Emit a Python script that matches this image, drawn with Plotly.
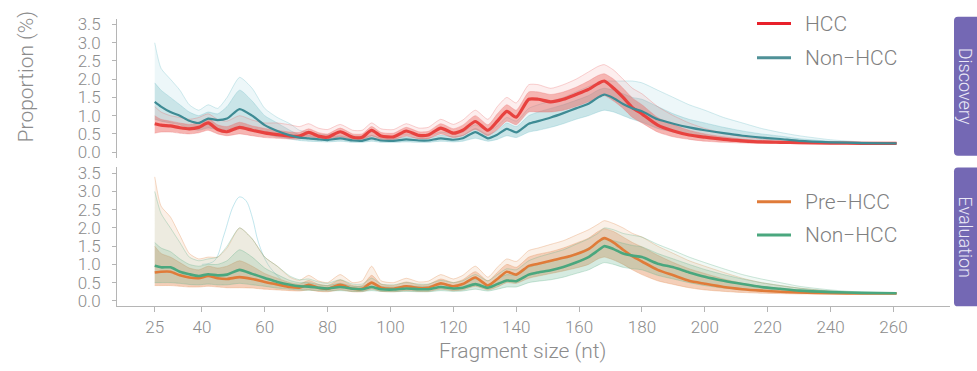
import plotly.graph_objects as go

# ---------------- data ----------------
fragment_size = [25, 27, 30, 33, 36, 39, 42, 45, 48, 52, 56, 60, 64, 68, 71, 74, 77, 80, 84, 88,
                 91, 94, 97, 101, 105, 109, 112, 116, 120, 123, 127, 131, 134, 137, 140, 144, 147, 151, 155, 159,
                 163, 166, 168, 171, 174, 177, 180, 185, 190, 195, 200, 206, 212, 218, 224, 230, 240, 250, 261]

# Discovery - HCC
hcc_mean = [0.78, 0.74, 0.72, 0.67, 0.64, 0.68, 0.80, 0.62, 0.56, 0.68, 0.60, 0.53, 0.48, 0.44, 0.44, 0.54, 0.44, 0.41, 0.56, 0.41,
            0.41, 0.60, 0.44, 0.42, 0.58, 0.46, 0.47, 0.66, 0.52, 0.60, 0.84, 0.60, 0.85, 1.12, 0.96, 1.45, 1.45, 1.38, 1.45, 1.58,
            1.72, 1.88, 1.95, 1.75, 1.50, 1.22, 1.05, 0.74, 0.58, 0.47, 0.41, 0.35, 0.31, 0.28, 0.27, 0.26, 0.25, 0.24, 0.24]
hcc_lo = [0.52, 0.55, 0.55, 0.52, 0.50, 0.53, 0.60, 0.50, 0.45, 0.50, 0.45, 0.40, 0.38, 0.36, 0.36, 0.42, 0.36, 0.34, 0.42, 0.33,
          0.33, 0.44, 0.35, 0.34, 0.44, 0.36, 0.37, 0.50, 0.40, 0.45, 0.62, 0.45, 0.62, 0.85, 0.75, 1.10, 1.10, 1.10, 1.15, 1.25,
          1.38, 1.50, 1.55, 1.40, 1.20, 0.95, 0.80, 0.55, 0.42, 0.35, 0.30, 0.27, 0.25, 0.24, 0.24, 0.23, 0.23, 0.23, 0.23]
hcc_hi = [1.00, 0.90, 0.85, 0.80, 0.76, 0.80, 0.92, 0.75, 0.70, 0.82, 0.72, 0.65, 0.60, 0.55, 0.54, 0.64, 0.54, 0.50, 0.66, 0.50,
          0.50, 0.70, 0.54, 0.52, 0.68, 0.56, 0.57, 0.78, 0.64, 0.74, 1.00, 0.75, 1.05, 1.30, 1.15, 1.65, 1.65, 1.58, 1.65, 1.78,
          1.95, 2.10, 2.15, 2.00, 1.75, 1.48, 1.30, 0.95, 0.75, 0.60, 0.50, 0.42, 0.36, 0.32, 0.30, 0.28, 0.26, 0.25, 0.24]
hcc_top = [1.25, 1.10, 1.00, 0.95, 0.90, 0.95, 1.05, 0.90, 0.85, 1.00, 0.88, 0.80, 0.80, 0.75, 0.70, 0.78, 0.66, 0.62, 0.76, 0.60,
           0.60, 0.80, 0.64, 0.62, 0.78, 0.66, 0.68, 0.90, 0.76, 0.88, 1.15, 0.90, 1.25, 1.50, 1.35, 1.85, 1.85, 1.75, 1.85, 2.00,
           2.20, 2.35, 2.40, 2.25, 2.00, 1.75, 1.60, 1.25, 1.00, 0.80, 0.65, 0.52, 0.42, 0.36, 0.32, 0.30, 0.27, 0.26, 0.25]

# Discovery - Non-HCC
dnon_mean = [1.38, 1.25, 1.10, 1.00, 0.86, 0.80, 0.92, 0.88, 0.92, 1.18, 1.00, 0.74, 0.58, 0.46, 0.40, 0.38, 0.35, 0.33, 0.38, 0.32,
             0.31, 0.38, 0.32, 0.31, 0.35, 0.32, 0.32, 0.38, 0.34, 0.38, 0.55, 0.38, 0.48, 0.64, 0.54, 0.78, 0.85, 0.95, 1.07, 1.20,
             1.33, 1.50, 1.58, 1.48, 1.32, 1.20, 1.12, 0.90, 0.78, 0.68, 0.60, 0.52, 0.45, 0.40, 0.36, 0.31, 0.27, 0.25, 0.24]
dnon_lo = [0.90, 0.85, 0.80, 0.75, 0.65, 0.60, 0.66, 0.62, 0.62, 0.70, 0.60, 0.50, 0.42, 0.36, 0.32, 0.30, 0.29, 0.28, 0.30, 0.27,
           0.27, 0.30, 0.27, 0.27, 0.28, 0.27, 0.27, 0.30, 0.28, 0.30, 0.38, 0.30, 0.35, 0.45, 0.40, 0.55, 0.60, 0.68, 0.78, 0.90,
           1.00, 1.10, 1.15, 1.10, 1.00, 0.90, 0.82, 0.65, 0.55, 0.47, 0.42, 0.37, 0.33, 0.30, 0.28, 0.26, 0.25, 0.24, 0.23]
dnon_hi = [1.90, 1.70, 1.50, 1.30, 1.10, 1.00, 1.10, 1.05, 1.25, 1.70, 1.40, 1.00, 0.80, 0.60, 0.48, 0.46, 0.42, 0.40, 0.45, 0.38,
           0.37, 0.46, 0.38, 0.37, 0.42, 0.38, 0.38, 0.46, 0.42, 0.46, 0.65, 0.48, 0.60, 0.80, 0.70, 1.00, 1.10, 1.20, 1.30, 1.42,
           1.55, 1.70, 1.75, 1.70, 1.60, 1.50, 1.45, 1.25, 1.05, 0.90, 0.80, 0.68, 0.58, 0.50, 0.44, 0.37, 0.30, 0.27, 0.25]
dnon_top = [3.00, 2.30, 2.00, 1.70, 1.30, 1.15, 1.30, 1.20, 1.50, 2.05, 1.75, 1.20, 0.95, 0.78, 0.60, 0.55, 0.50, 0.48, 0.55, 0.45,
            0.44, 0.55, 0.45, 0.43, 0.50, 0.45, 0.45, 0.55, 0.50, 0.55, 0.75, 0.58, 0.72, 0.95, 0.85, 1.20, 1.30, 1.40, 1.50, 1.65,
            1.80, 1.90, 1.95, 1.95, 1.95, 1.95, 1.90, 1.70, 1.50, 1.30, 1.15, 0.95, 0.80, 0.65, 0.54, 0.45, 0.34, 0.28, 0.26]

# Evaluation - Pre-HCC
pre_mean = [0.78, 0.80, 0.80, 0.70, 0.64, 0.62, 0.68, 0.62, 0.60, 0.65, 0.60, 0.52, 0.45, 0.38, 0.36, 0.44, 0.36, 0.33, 0.44, 0.33,
            0.33, 0.50, 0.36, 0.33, 0.40, 0.35, 0.36, 0.48, 0.40, 0.46, 0.64, 0.42, 0.60, 0.80, 0.72, 0.96, 1.02, 1.10, 1.18, 1.28,
            1.42, 1.62, 1.72, 1.60, 1.40, 1.22, 1.08, 0.85, 0.70, 0.55, 0.47, 0.38, 0.32, 0.28, 0.25, 0.23, 0.21, 0.20, 0.20]
pre_lo = [0.42, 0.42, 0.42, 0.40, 0.38, 0.38, 0.40, 0.38, 0.36, 0.36, 0.35, 0.32, 0.30, 0.28, 0.27, 0.30, 0.26, 0.25, 0.30, 0.25,
          0.25, 0.32, 0.26, 0.25, 0.28, 0.26, 0.26, 0.32, 0.28, 0.30, 0.40, 0.30, 0.38, 0.50, 0.48, 0.62, 0.68, 0.75, 0.82, 0.90,
          1.00, 1.15, 1.20, 1.12, 1.00, 0.85, 0.72, 0.55, 0.45, 0.36, 0.30, 0.26, 0.23, 0.21, 0.20, 0.19, 0.19, 0.19, 0.19]
pre_hi = [1.50, 1.30, 1.20, 1.05, 0.90, 0.85, 0.95, 0.90, 0.95, 1.10, 0.95, 0.75, 0.62, 0.50, 0.46, 0.56, 0.46, 0.42, 0.58, 0.42,
          0.42, 0.70, 0.46, 0.42, 0.52, 0.44, 0.45, 0.60, 0.50, 0.58, 0.80, 0.55, 0.78, 1.00, 0.92, 1.20, 1.28, 1.35, 1.45, 1.58,
          1.72, 1.90, 1.98, 1.90, 1.75, 1.60, 1.48, 1.25, 1.05, 0.88, 0.75, 0.60, 0.48, 0.40, 0.34, 0.29, 0.24, 0.21, 0.20]
pre_top = [3.40, 2.60, 2.30, 1.80, 1.30, 1.15, 1.20, 1.20, 1.45, 2.00, 1.70, 1.20, 0.95, 0.65, 0.56, 0.70, 0.55, 0.50, 0.72, 0.50,
           0.55, 0.95, 0.55, 0.50, 0.62, 0.52, 0.54, 0.72, 0.60, 0.70, 0.95, 0.65, 0.92, 1.15, 1.08, 1.38, 1.45, 1.55, 1.65, 1.80,
           1.95, 2.10, 2.20, 2.12, 2.00, 1.85, 1.75, 1.50, 1.30, 1.10, 0.95, 0.78, 0.62, 0.50, 0.42, 0.35, 0.27, 0.22, 0.21]

# Evaluation - Non-HCC
enon_mean = [0.96, 0.92, 0.92, 0.80, 0.73, 0.68, 0.73, 0.70, 0.72, 0.85, 0.74, 0.63, 0.52, 0.44, 0.40, 0.39, 0.36, 0.34, 0.38, 0.33,
             0.32, 0.38, 0.32, 0.31, 0.34, 0.32, 0.32, 0.38, 0.34, 0.36, 0.46, 0.36, 0.46, 0.56, 0.54, 0.72, 0.78, 0.84, 0.93, 1.05,
             1.20, 1.38, 1.50, 1.42, 1.30, 1.24, 1.20, 1.02, 0.92, 0.78, 0.66, 0.55, 0.46, 0.38, 0.33, 0.28, 0.24, 0.22, 0.21]
enon_lo = [0.50, 0.50, 0.50, 0.48, 0.45, 0.44, 0.46, 0.44, 0.44, 0.48, 0.44, 0.40, 0.35, 0.32, 0.30, 0.29, 0.28, 0.27, 0.28, 0.26,
           0.26, 0.28, 0.26, 0.25, 0.26, 0.25, 0.25, 0.28, 0.26, 0.27, 0.32, 0.27, 0.32, 0.38, 0.38, 0.50, 0.54, 0.58, 0.65, 0.75,
           0.85, 0.98, 1.05, 1.00, 0.92, 0.88, 0.85, 0.70, 0.60, 0.50, 0.42, 0.35, 0.30, 0.27, 0.25, 0.23, 0.21, 0.20, 0.20]
enon_hi = [1.60, 1.45, 1.35, 1.15, 1.00, 0.95, 1.00, 1.00, 1.10, 1.40, 1.20, 0.90, 0.72, 0.56, 0.50, 0.50, 0.45, 0.42, 0.48, 0.40,
           0.40, 0.50, 0.40, 0.38, 0.42, 0.40, 0.40, 0.48, 0.42, 0.46, 0.60, 0.45, 0.60, 0.72, 0.70, 0.92, 1.00, 1.08, 1.18, 1.30,
           1.45, 1.60, 1.70, 1.65, 1.58, 1.52, 1.48, 1.30, 1.15, 1.00, 0.86, 0.72, 0.60, 0.50, 0.42, 0.35, 0.27, 0.23, 0.21]
enon_top = [3.00, 2.40, 2.00, 1.60, 1.20, 1.10, 1.15, 1.20, 1.50, 2.00, 1.70, 1.20, 0.95, 0.68, 0.58, 0.60, 0.52, 0.48, 0.58, 0.46,
            0.46, 0.62, 0.46, 0.44, 0.50, 0.46, 0.46, 0.56, 0.50, 0.55, 0.72, 0.55, 0.72, 0.88, 0.85, 1.10, 1.20, 1.30, 1.40, 1.55,
            1.70, 1.85, 2.00, 1.95, 1.85, 1.80, 1.75, 1.55, 1.38, 1.20, 1.05, 0.88, 0.72, 0.60, 0.50, 0.40, 0.30, 0.24, 0.22]

# single outlying Non-HCC sample in the evaluation set
outlier_x = [40, 44, 47, 50, 52, 54, 56, 58, 61, 65]
outlier_y = [1.00, 1.10, 1.80, 2.60, 2.85, 2.75, 2.30, 1.60, 1.00, 0.60]

tick_vals = [25, 40, 60, 80, 100, 120, 140, 160, 180, 200, 220, 240, 260]
y_ticks = [0.0, 0.5, 1.0, 1.5, 2.0, 2.5, 3.0, 3.5]

# ---------------- figure ----------------
W, H = 977, 371
FONT = "Roboto"
GREY = "#8c8c8c"

fig = go.Figure()


def px_x(p):
    return p / W


def px_y(p):
    return 1 - p / H


SPL = dict(shape="spline", smoothing=0.6)


def add_group(xa, ya, lo, hi, top, band_col, faint_col, edge_col):
    common = dict(x=fragment_size, xaxis=xa, yaxis=ya, mode="lines", hoverinfo="skip", showlegend=False)
    fig.add_trace(go.Scatter(y=hi, line=dict(width=0, **SPL), **common))
    fig.add_trace(go.Scatter(y=top, fill="tonexty", fillcolor=faint_col,
                             line=dict(width=0.7, color=edge_col, **SPL), **common))
    fig.add_trace(go.Scatter(y=lo, line=dict(width=0.7, color=edge_col, **SPL), **common))
    fig.add_trace(go.Scatter(y=hi, fill="tonexty", fillcolor=band_col,
                             line=dict(width=0.7, color=edge_col, **SPL), **common))


def add_mean(xa, ya, mean, line_col, width):
    fig.add_trace(go.Scatter(x=fragment_size, y=mean, xaxis=xa, yaxis=ya, mode="lines",
                             hoverinfo="skip", showlegend=False,
                             line=dict(color=line_col, width=width, **SPL)))


# top panel (Discovery)
add_group("x", "y", dnon_lo, dnon_hi, dnon_top,
          "rgba(95,175,185,0.33)", "rgba(140,205,215,0.16)", "rgba(110,190,200,0.45)")
add_group("x", "y", hcc_lo, hcc_hi, hcc_top,
          "rgba(236,90,85,0.45)", "rgba(240,140,140,0.15)", "rgba(236,110,110,0.45)")
add_mean("x", "y", hcc_mean, "#e8423f", 3.2)
add_mean("x", "y", dnon_mean, "#3e8b94", 2.2)

# bottom panel (Evaluation)
fig.add_trace(go.Scatter(x=outlier_x, y=outlier_y, xaxis="x2", yaxis="y2", mode="lines",
                         hoverinfo="skip", showlegend=False,
                         line=dict(color="rgba(120,200,215,0.45)", width=1, shape="spline")))
add_group("x2", "y2", pre_lo, pre_hi, pre_top,
          "rgba(226,130,70,0.38)", "rgba(232,170,120,0.18)", "rgba(226,140,80,0.45)")
add_group("x2", "y2", enon_lo, enon_hi, enon_top,
          "rgba(90,175,135,0.25)", "rgba(140,205,170,0.12)", "rgba(100,180,140,0.45)")
add_mean("x2", "y2", pre_mean, "#e07b39", 2.6)
add_mean("x2", "y2", enon_mean, "#4aa77e", 2.6)

x_dom = [px_x(117), px_x(950)]
y_range = [-0.15, 3.66]
yaxis_common = dict(range=y_range, tickvals=y_ticks, ticktext=[f"{v:.1f}" for v in y_ticks],
                    showgrid=False, zeroline=False, showline=True, linecolor="#b5b5b5", linewidth=1,
                    ticks="outside", ticklen=4, tickcolor="#b5b5b5", ticklabelstandoff=8,
                    tickfont=dict(family=FONT, size=17, color=GREY, weight=300))

fig.update_layout(
    width=W, height=H, margin=dict(l=0, r=0, t=0, b=0),
    paper_bgcolor="white", plot_bgcolor="white",
    xaxis=dict(domain=x_dom, range=[13, 278], matches="x2", showticklabels=False,
               showline=False, showgrid=False, zeroline=False, ticks=""),
    yaxis=dict(domain=[px_y(157), px_y(15)], anchor="x", **yaxis_common),
    xaxis2=dict(domain=x_dom, range=[13, 278], anchor="y2", tickvals=tick_vals,
                showgrid=False, zeroline=False, showline=True, linecolor="#b5b5b5", linewidth=1,
                ticks="outside", ticklen=5, tickcolor="#b5b5b5",
                tickfont=dict(family=FONT, size=17, color=GREY, weight=300)),
    yaxis2=dict(domain=[px_y(309), px_y(167)], anchor="x2", **yaxis_common),
)

# axis titles
fig.add_annotation(text="Proportion (%)", xref="paper", yref="paper", x=px_x(26), y=px_y(74),
                   textangle=-90, showarrow=False, xanchor="center", yanchor="middle",
                   font=dict(family=FONT, size=21, color=GREY, weight=300))
fig.add_annotation(text="Fragment size (nt)", xref="paper", yref="paper", x=px_x(522), y=px_y(355),
                   showarrow=False, xanchor="center", yanchor="middle",
                   font=dict(family=FONT, size=21, color=GREY, weight=300))

# legends
legend_items = [("HCC", "#e8202a", 20), ("Non\u2212HCC", "#4f9197", 55),
                ("Pre\u2212HCC", "#e07b39", 202), ("Non\u2212HCC", "#4aa77e", 236)]
for label, col, yy in legend_items:
    fig.add_shape(type="line", xref="paper", yref="paper", x0=px_x(757), x1=px_x(791),
                  y0=px_y(yy), y1=px_y(yy), line=dict(color=col, width=3))
    fig.add_annotation(text=label, xref="paper", yref="paper", x=px_x(803), y=px_y(yy),
                       showarrow=False, xanchor="left", yanchor="middle",
                       font=dict(family=FONT, size=21, color="#808080", weight=300))


# strip labels (rounded left corners)
def rounded_path(x0, y0, x1, y1, r):
    a, b = px_x(x0), px_x(x1)
    top, bot = px_y(y0), px_y(y1)
    rx, ry = r / W, r / H
    return (f"M {a + rx} {top} L {b} {top} L {b} {bot} L {a + rx} {bot} "
            f"Q {a} {bot} {a} {bot + ry} L {a} {top - ry} Q {a} {top} {a + rx} {top} Z")


for label, y0, y1 in [("Discovery", 13, 155), ("Evaluation", 167, 309)]:
    fig.add_shape(type="path", xref="paper", yref="paper", path=rounded_path(954, y0, 980, y1, 4),
                  fillcolor="#7468b4", line=dict(width=0))
    fig.add_annotation(text=label, xref="paper", yref="paper", x=px_x(965.5), y=px_y((y0 + y1) / 2),
                       textangle=90, showarrow=False, xanchor="center", yanchor="middle",
                       borderpad=0,
                       font=dict(family=FONT, size=18, color="#ebe8f7", weight=300))

fig.write_html("out.html")
